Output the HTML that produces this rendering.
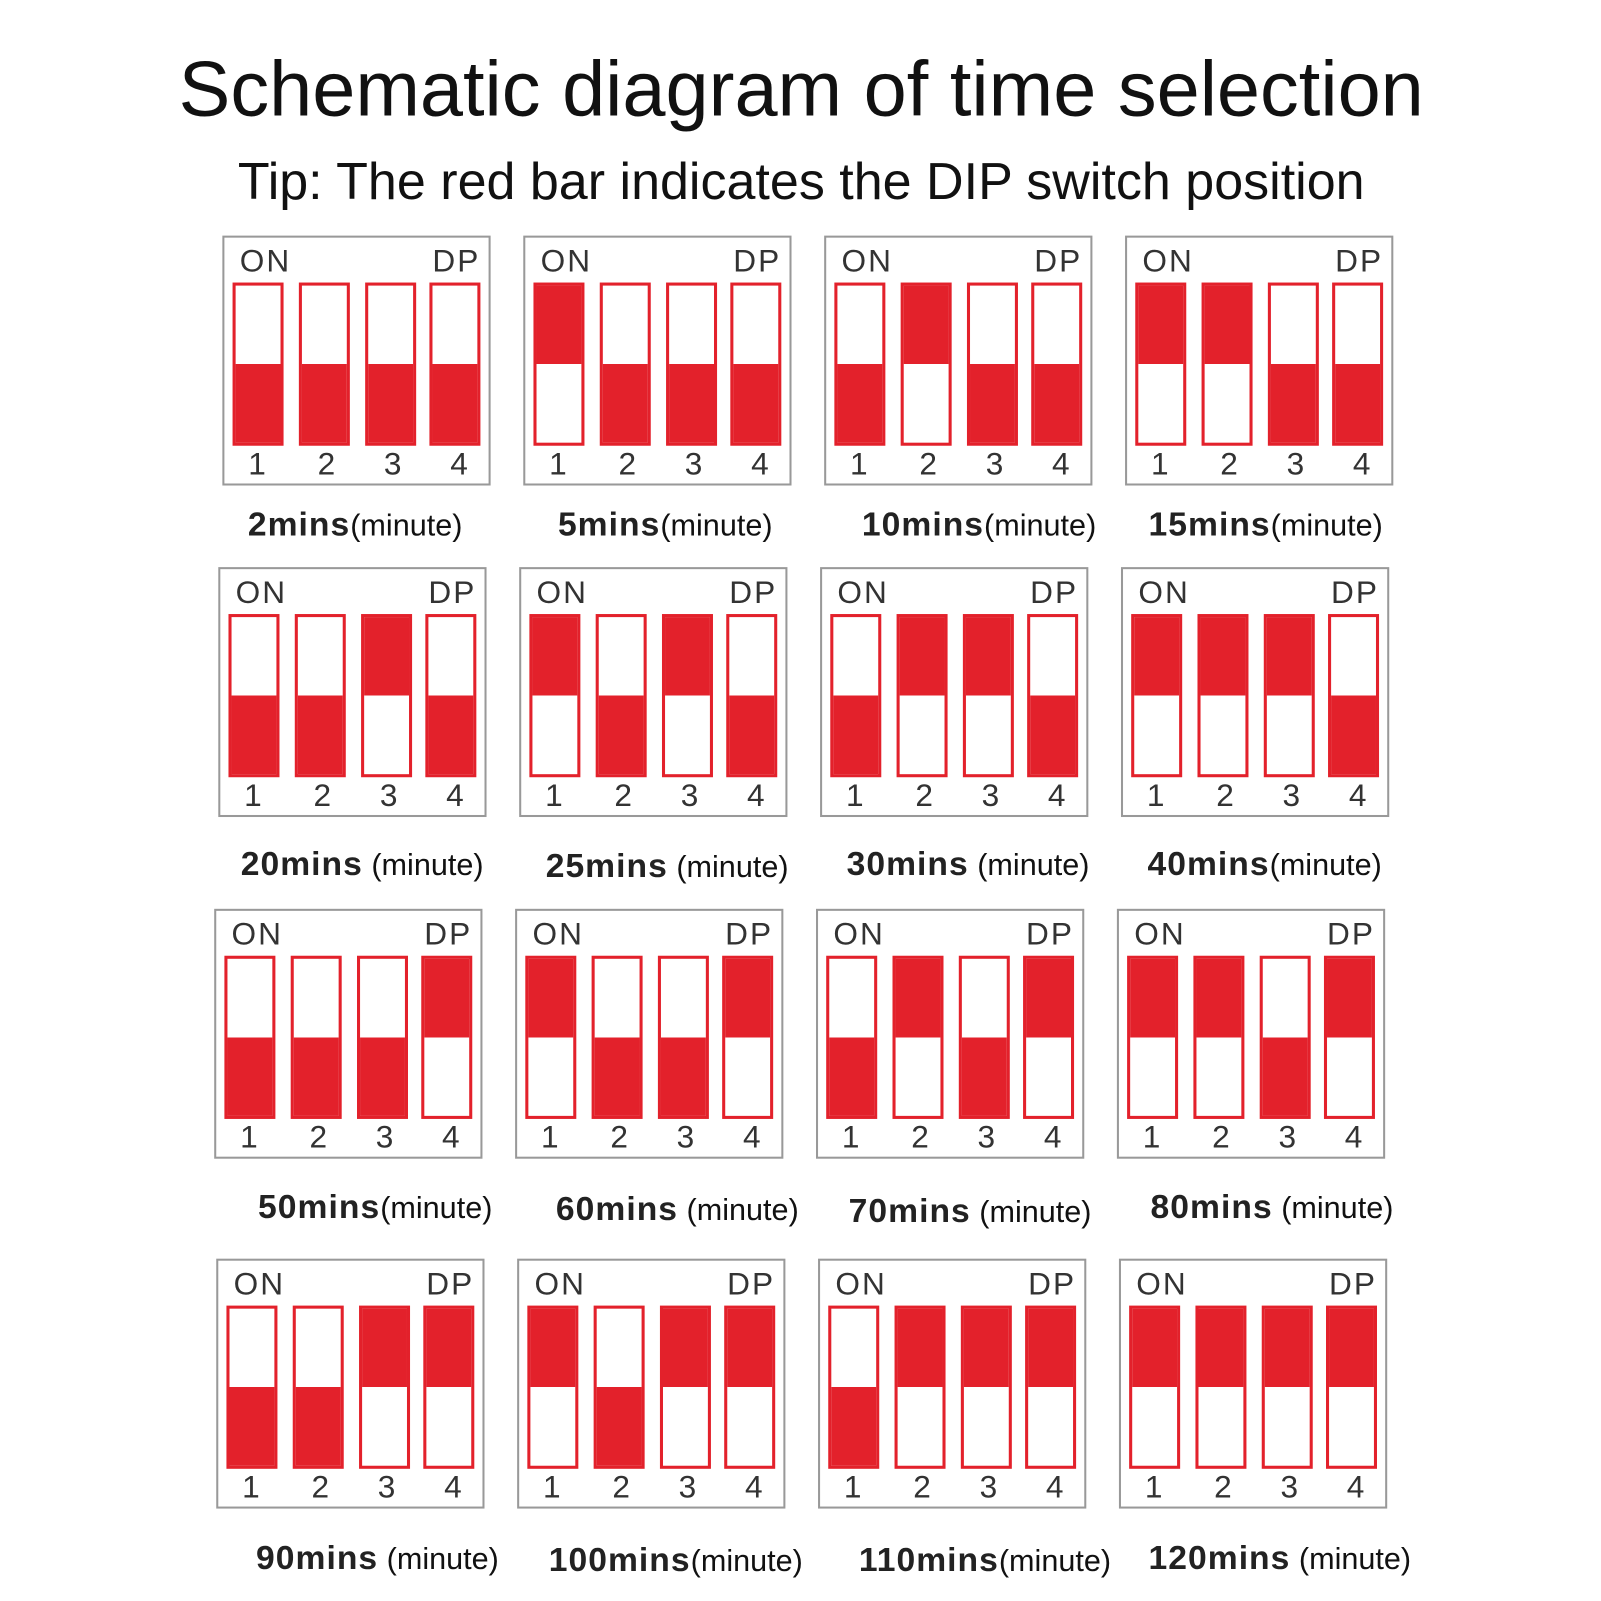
<!DOCTYPE html>
<html><head><meta charset="utf-8"><style>
body{margin:0;width:1601px;height:1601px;background:#fff;position:relative;overflow:hidden;font-family:"Liberation Sans",sans-serif;color:#111}
#w{position:absolute;left:0;top:0;width:1570px;height:1570px;transform:scale(1.02);transform-origin:0 0}
.t{position:absolute;left:0;width:1571px;text-align:center;white-space:nowrap}
.b{position:absolute;width:259px;height:241px;border:2px solid #999;box-sizing:content-box}
.b .on,.b .dp{position:absolute;top:5px;font-size:31px;color:#333;letter-spacing:2px}
.b .on{left:15px}.b .dp{right:8px}
.s{position:absolute;top:44px;width:44px;height:154px;border:3px solid #e3212b;background:linear-gradient(#fff 50%,#e3212b 50%)}
.s.u{background:linear-gradient(#e3212b 50%,#fff 50%)}
.n{position:absolute;top:204px;font-size:31px;color:#333;width:40px;text-align:center}
.l{position:absolute;font-size:30px;white-space:pre;line-height:32px}
.l b{font-size:33px;letter-spacing:1px;color:#222}
</style></head><body><div id="w">
<div class="t" style="top:44px;font-size:76px;">Schematic diagram of time selection</div>
<div class="t" style="top:148px;font-size:51px;">Tip: The red bar indicates the DIP switch position</div>

<!-- row 1 -->
<div class="b" style="left:218px;top:231px"><span class="on">ON</span><span class="dp">DP</span>
<div class="s" style="left:8px"></div><div class="s" style="left:73px"></div><div class="s" style="left:138px"></div><div class="s" style="left:201px"></div>
<span class="n" style="left:12px">1</span><span class="n" style="left:80px">2</span><span class="n" style="left:145px">3</span><span class="n" style="left:210px">4</span></div>
<div class="b" style="left:513px;top:231px"><span class="on">ON</span><span class="dp">DP</span>
<div class="s u" style="left:8px"></div><div class="s" style="left:73px"></div><div class="s" style="left:138px"></div><div class="s" style="left:201px"></div>
<span class="n" style="left:12px">1</span><span class="n" style="left:80px">2</span><span class="n" style="left:145px">3</span><span class="n" style="left:210px">4</span></div>
<div class="b" style="left:808px;top:231px"><span class="on">ON</span><span class="dp">DP</span>
<div class="s" style="left:8px"></div><div class="s u" style="left:73px"></div><div class="s" style="left:138px"></div><div class="s" style="left:201px"></div>
<span class="n" style="left:12px">1</span><span class="n" style="left:80px">2</span><span class="n" style="left:145px">3</span><span class="n" style="left:210px">4</span></div>
<div class="b" style="left:1103px;top:231px"><span class="on">ON</span><span class="dp">DP</span>
<div class="s u" style="left:8px"></div><div class="s u" style="left:73px"></div><div class="s" style="left:138px"></div><div class="s" style="left:201px"></div>
<span class="n" style="left:12px">1</span><span class="n" style="left:80px">2</span><span class="n" style="left:145px">3</span><span class="n" style="left:210px">4</span></div>
<div class="l" style="left:243px;top:498px"><b>2mins</b>(minute)</div>
<div class="l" style="left:547px;top:498px"><b>5mins</b>(minute)</div>
<div class="l" style="left:845px;top:498px"><b>10mins</b>(minute)</div>
<div class="l" style="left:1126px;top:498px"><b>15mins</b>(minute)</div>

<!-- row 2 -->
<div class="b" style="left:214px;top:556px"><span class="on">ON</span><span class="dp">DP</span>
<div class="s" style="left:8px"></div><div class="s" style="left:73px"></div><div class="s u" style="left:138px"></div><div class="s" style="left:201px"></div>
<span class="n" style="left:12px">1</span><span class="n" style="left:80px">2</span><span class="n" style="left:145px">3</span><span class="n" style="left:210px">4</span></div>
<div class="b" style="left:509px;top:556px"><span class="on">ON</span><span class="dp">DP</span>
<div class="s u" style="left:8px"></div><div class="s" style="left:73px"></div><div class="s u" style="left:138px"></div><div class="s" style="left:201px"></div>
<span class="n" style="left:12px">1</span><span class="n" style="left:80px">2</span><span class="n" style="left:145px">3</span><span class="n" style="left:210px">4</span></div>
<div class="b" style="left:804px;top:556px"><span class="on">ON</span><span class="dp">DP</span>
<div class="s" style="left:8px"></div><div class="s u" style="left:73px"></div><div class="s u" style="left:138px"></div><div class="s" style="left:201px"></div>
<span class="n" style="left:12px">1</span><span class="n" style="left:80px">2</span><span class="n" style="left:145px">3</span><span class="n" style="left:210px">4</span></div>
<div class="b" style="left:1099px;top:556px"><span class="on">ON</span><span class="dp">DP</span>
<div class="s u" style="left:8px"></div><div class="s u" style="left:73px"></div><div class="s u" style="left:138px"></div><div class="s" style="left:201px"></div>
<span class="n" style="left:12px">1</span><span class="n" style="left:80px">2</span><span class="n" style="left:145px">3</span><span class="n" style="left:210px">4</span></div>
<div class="l" style="left:236px;top:831px"><b>20mins</b> (minute)</div>
<div class="l" style="left:535px;top:833px"><b>25mins</b> (minute)</div>
<div class="l" style="left:830px;top:831px"><b>30mins</b> (minute)</div>
<div class="l" style="left:1125px;top:831px"><b>40mins</b>(minute)</div>

<!-- row 3 -->
<div class="b" style="left:210px;top:891px"><span class="on">ON</span><span class="dp">DP</span>
<div class="s" style="left:8px"></div><div class="s" style="left:73px"></div><div class="s" style="left:138px"></div><div class="s u" style="left:201px"></div>
<span class="n" style="left:12px">1</span><span class="n" style="left:80px">2</span><span class="n" style="left:145px">3</span><span class="n" style="left:210px">4</span></div>
<div class="b" style="left:505px;top:891px"><span class="on">ON</span><span class="dp">DP</span>
<div class="s u" style="left:8px"></div><div class="s" style="left:73px"></div><div class="s" style="left:138px"></div><div class="s u" style="left:201px"></div>
<span class="n" style="left:12px">1</span><span class="n" style="left:80px">2</span><span class="n" style="left:145px">3</span><span class="n" style="left:210px">4</span></div>
<div class="b" style="left:800px;top:891px"><span class="on">ON</span><span class="dp">DP</span>
<div class="s" style="left:8px"></div><div class="s u" style="left:73px"></div><div class="s" style="left:138px"></div><div class="s u" style="left:201px"></div>
<span class="n" style="left:12px">1</span><span class="n" style="left:80px">2</span><span class="n" style="left:145px">3</span><span class="n" style="left:210px">4</span></div>
<div class="b" style="left:1095px;top:891px"><span class="on">ON</span><span class="dp">DP</span>
<div class="s u" style="left:8px"></div><div class="s u" style="left:73px"></div><div class="s" style="left:138px"></div><div class="s u" style="left:201px"></div>
<span class="n" style="left:12px">1</span><span class="n" style="left:80px">2</span><span class="n" style="left:145px">3</span><span class="n" style="left:210px">4</span></div>
<div class="l" style="left:253px;top:1167px"><b>50mins</b>(minute)</div>
<div class="l" style="left:545px;top:1169px"><b>60mins</b> (minute)</div>
<div class="l" style="left:832px;top:1171px"><b>70mins</b> (minute)</div>
<div class="l" style="left:1128px;top:1167px"><b>80mins</b> (minute)</div>

<!-- row 4 -->
<div class="b" style="left:212px;top:1234px"><span class="on">ON</span><span class="dp">DP</span>
<div class="s" style="left:8px"></div><div class="s" style="left:73px"></div><div class="s u" style="left:138px"></div><div class="s u" style="left:201px"></div>
<span class="n" style="left:12px">1</span><span class="n" style="left:80px">2</span><span class="n" style="left:145px">3</span><span class="n" style="left:210px">4</span></div>
<div class="b" style="left:507px;top:1234px"><span class="on">ON</span><span class="dp">DP</span>
<div class="s u" style="left:8px"></div><div class="s" style="left:73px"></div><div class="s u" style="left:138px"></div><div class="s u" style="left:201px"></div>
<span class="n" style="left:12px">1</span><span class="n" style="left:80px">2</span><span class="n" style="left:145px">3</span><span class="n" style="left:210px">4</span></div>
<div class="b" style="left:802px;top:1234px"><span class="on">ON</span><span class="dp">DP</span>
<div class="s" style="left:8px"></div><div class="s u" style="left:73px"></div><div class="s u" style="left:138px"></div><div class="s u" style="left:201px"></div>
<span class="n" style="left:12px">1</span><span class="n" style="left:80px">2</span><span class="n" style="left:145px">3</span><span class="n" style="left:210px">4</span></div>
<div class="b" style="left:1097px;top:1234px"><span class="on">ON</span><span class="dp">DP</span>
<div class="s u" style="left:8px"></div><div class="s u" style="left:73px"></div><div class="s u" style="left:138px"></div><div class="s u" style="left:201px"></div>
<span class="n" style="left:12px">1</span><span class="n" style="left:80px">2</span><span class="n" style="left:145px">3</span><span class="n" style="left:210px">4</span></div>
<div class="l" style="left:251px;top:1511px"><b>90mins</b> (minute)</div>
<div class="l" style="left:538px;top:1513px"><b>100mins</b>(minute)</div>
<div class="l" style="left:842px;top:1513px"><b>110mins</b>(minute)</div>
<div class="l" style="left:1126px;top:1511px"><b>120mins</b> (minute)</div>
</div></body></html>
